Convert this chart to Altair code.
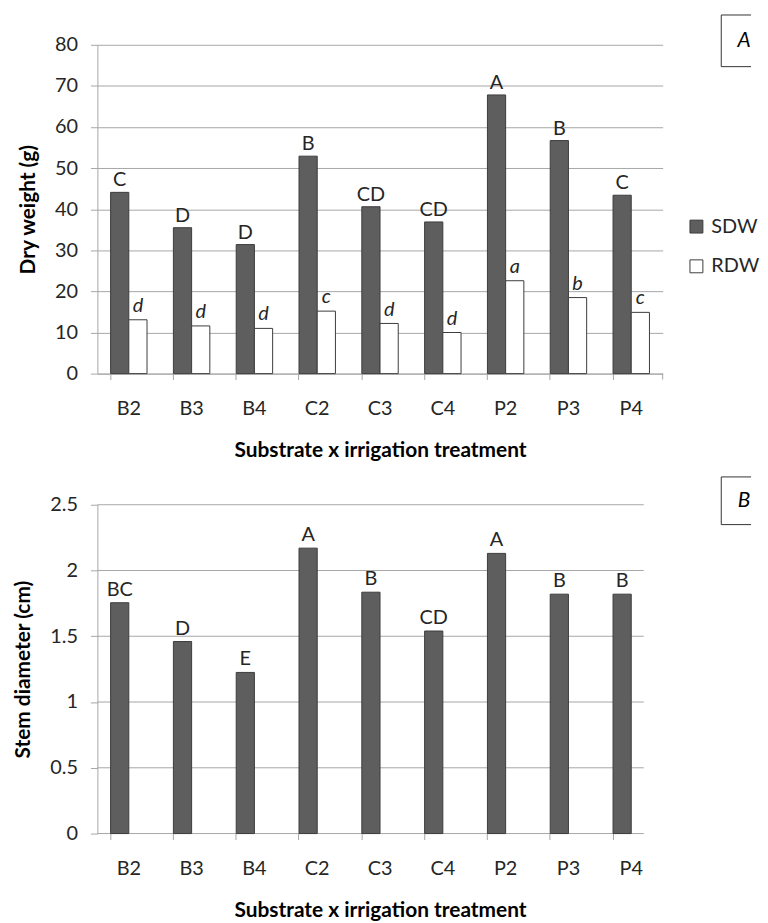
import altair as alt
import pandas as pd

# ---------------- data ----------------
cats = ["B2", "B3", "B4", "C2", "C3", "C4", "P2", "P3", "P4"]
series = ["SDW", "RDW"]
sdw = [44.1, 35.5, 31.4, 52.9, 40.6, 36.9, 67.8, 56.7, 43.4]
rdw = [13.1, 11.6, 11.0, 15.2, 12.2, 10.0, 22.6, 18.5, 14.9]
sdw_letters = ["C", "D", "D", "B", "CD", "CD", "A", "B", "C"]
rdw_letters = ["d", "d", "d", "c", "d", "d", "a", "b", "c"]
stem = [1.755, 1.46, 1.225, 2.17, 1.835, 1.54, 2.13, 1.82, 1.82]
stem_letters = ["BC", "D", "E", "A", "B", "CD", "A", "B", "B"]
dw_ticks = [0, 10, 20, 30, 40, 50, 60, 70, 80]
sd_ticks = [0, 0.5, 1, 1.5, 2, 2.5]
x_title = "Substrate x irrigation treatment"

# ---------------- style ----------------
FONT = "Lato"
GRID = "#a6a6a6"
DARK = "#5e5e5e"
EDGE = "#3c3c3c"
TEXT = "#262626"
W, H = 569, 331
LAB = 20
TIT = 21

dw_df = pd.DataFrame({
    "cat": cats * 2,
    "series": ["SDW"] * len(cats) + ["RDW"] * len(cats),
    "value": sdw + rdw,
    "letter": sdw_letters + rdw_letters,
})
sd_df = pd.DataFrame({
    "cat": cats,
    "series": ["SDW"] * len(cats),
    "value": stem,
    "letter": stem_letters,
})
one = pd.DataFrame({"k": [0]})

xscale = alt.Scale(domain=cats, paddingInner=0.42, paddingOuter=0.21)
offscale = alt.Scale(domain=series, paddingInner=0, paddingOuter=0)


def x_axis(domain=True):
    return alt.Axis(title=x_title, bandPosition=0, labelAngle=0, grid=False,
                    domain=domain, domainColor=GRID, tickColor=GRID, tickSize=6,
                    labelPadding=19, titlePadding=21,
                    labelFont=FONT, labelFontSize=LAB, labelColor=TEXT,
                    titleFont=FONT, titleFontSize=TIT, titleFontWeight="bold",
                    titleColor="#000")


def y_axis(title, values, grid, fmt):
    return alt.Axis(title=title, values=values, grid=grid, gridColor=GRID,
                    domainColor=GRID, tickColor=GRID, tickSize=7, format=fmt,
                    labelPadding=13, titlePadding=16,
                    labelFont=FONT, labelFontSize=LAB, labelColor=TEXT,
                    titleFont=FONT, titleFontSize=TIT, titleFontWeight="bold",
                    titleColor="#000")


def panel_box(letter, top, bottom, left=628, right=658):
    b = alt.Chart(one)
    t = b.mark_rule(color="#333", strokeWidth=1).encode(
        x=alt.value(left), x2=alt.value(right), y=alt.value(top))
    bt = b.mark_rule(color="#333", strokeWidth=1).encode(
        x=alt.value(left), x2=alt.value(right), y=alt.value(bottom))
    l = b.mark_rule(color="#333", strokeWidth=1).encode(
        x=alt.value(left), y=alt.value(top), y2=alt.value(bottom))
    txt = b.mark_text(font=FONT, fontSize=TIT, fontStyle="italic", color="#000",
                      baseline="middle").encode(
        x=alt.value(651), y=alt.value((top + bottom) / 2), text=alt.value(letter))
    return [t, bt, l, txt]


# ---------------- top panel ----------------
xa_top = x_axis()
ya_top = y_axis("Dry weight (g)", dw_ticks, True, "d")
y_top_scale = alt.Scale(domain=[0, 80])

top_base = alt.Chart(dw_df)
top_bars = top_base.mark_bar(stroke=EDGE, strokeWidth=1).encode(
    x=alt.X("cat:N", scale=xscale, axis=xa_top),
    xOffset=alt.XOffset("series:N", scale=offscale),
    y=alt.Y("value:Q", scale=y_top_scale, axis=ya_top),
    fill=alt.Fill("series:N", scale=alt.Scale(domain=series, range=[DARK, "#ffffff"]),
                  legend=alt.Legend(title=None, orient="none", legendX=593, legendY=173,
                                    symbolType="square", symbolSize=169,
                                    symbolStrokeColor=EDGE, symbolStrokeWidth=1,
                                    labelFont=FONT, labelFontSize=LAB, labelColor=TEXT,
                                    labelOffset=5, rowPadding=20, padding=0)),
)
top_sdw_txt = top_base.transform_filter(alt.datum.series == "SDW").mark_text(
    font=FONT, fontSize=LAB, color=TEXT, baseline="alphabetic", dy=-6).encode(
    x=alt.X("cat:N", scale=xscale, axis=xa_top),
    xOffset=alt.XOffset("series:N", scale=offscale),
    y=alt.Y("value:Q", scale=y_top_scale, axis=ya_top),
    text="letter:N",
)
top_rdw_txt = top_base.transform_filter(alt.datum.series == "RDW").mark_text(
    font=FONT, fontSize=LAB, fontStyle="italic", color=TEXT, baseline="alphabetic", dy=-8).encode(
    x=alt.X("cat:N", scale=xscale, axis=xa_top),
    xOffset=alt.XOffset("series:N", scale=offscale),
    y=alt.Y("value:Q", scale=y_top_scale, axis=ya_top),
    text="letter:N",
)
end_tick = alt.Chart(one).mark_rule(color=GRID).encode(
    x=alt.value(W), y=alt.value(H), y2=alt.value(H + 6))

top = alt.layer(top_bars, top_sdw_txt, top_rdw_txt, end_tick,
                *panel_box("A", -30, 22)).properties(width=W, height=H)

# ---------------- bottom panel ----------------
xa_bot = x_axis(domain=False)
ya_bot = y_axis("Stem diameter (cm)", sd_ticks, False, "~g")
y_bot_scale = alt.Scale(domain=[0, 2.5])

grid_bot = alt.Chart(pd.DataFrame({"t": sd_ticks})).mark_rule(color=GRID, strokeWidth=1).encode(
    y=alt.Y("t:Q", scale=y_bot_scale, axis=ya_bot),
    x=alt.value(0), x2=alt.value(550),
)
bot_base = alt.Chart(sd_df)
bot_bars = bot_base.mark_bar(stroke=EDGE, strokeWidth=1, fill=DARK).encode(
    x=alt.X("cat:N", scale=xscale, axis=xa_bot),
    xOffset=alt.XOffset("series:N", scale=offscale),
    y=alt.Y("value:Q", scale=y_bot_scale, axis=ya_bot),
)
bot_txt = bot_base.mark_text(font=FONT, fontSize=LAB, color=TEXT,
                             baseline="alphabetic", dy=-7).encode(
    x=alt.X("cat:N", scale=xscale, axis=xa_bot),
    xOffset=alt.XOffset("series:N", scale=offscale),
    y=alt.Y("value:Q", scale=y_bot_scale, axis=ya_bot),
    text="letter:N",
)
bottom = alt.layer(grid_bot, bot_bars, bot_txt,
                   *panel_box("B", -28, 20)).properties(width=W, height=H)

chart = alt.vconcat(top, bottom, spacing=132, bounds="flush").configure_view(
    stroke=None).properties(padding={"left": 5, "top": 3, "right": 0, "bottom": 0})

chart.save("out.html", embed_options={"renderer": "svg", "actions": False})
